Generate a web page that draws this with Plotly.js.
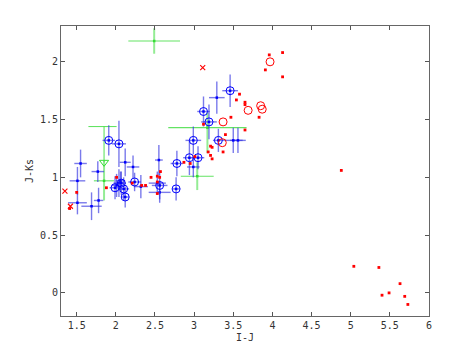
<!DOCTYPE html>
<html><head><meta charset="utf-8">
<script src="https://cdn.plot.ly/plotly-3.0.1.min.js"></script>
<style>html,body{margin:0;padding:0;background:#fff}#c{width:474px;height:356px}</style>
</head><body><div id="c"></div>
<script>
// Blue points (plain) : I-J, J-Ks, errors
const blueX  = [1.55,1.51,1.51,1.69,1.78,1.77,2.12,2.22,2.32,2.04,2.01,2.06,2.55,2.53,2.56,2.99,3.29,3.50,3.56];
const blueY  = [1.12,0.97,0.78,0.75,0.80,1.05,1.13,1.09,0.92,0.95,0.93,0.97,1.15,0.95,0.87,1.09,1.69,1.32,1.32];
const blueXe = [0.08,0.10,0.12,0.13,0.06,0.08,0.07,0.08,0.09,0.07,0.06,0.06,0.05,0.11,0.14,0.08,0.10,0.12,0.10];
const blueYe = [0.12,0.12,0.10,0.12,0.11,0.09,0.12,0.10,0.10,0.12,0.10,0.08,0.13,0.10,0.09,0.09,0.14,0.11,0.11];
// Blue points (circled)
const circX  = [1.91,2.04,1.99,2.07,2.10,2.12,2.24,2.56,2.77,2.78,2.94,3.05,2.99,3.12,3.19,3.31,3.46];
const circY  = [1.32,1.29,0.91,0.95,0.90,0.83,0.96,0.93,0.90,1.12,1.17,1.17,1.32,1.57,1.48,1.32,1.75];
const circXe = [0.08,0.09,0.07,0.06,0.07,0.05,0.08,0.10,0.05,0.08,0.08,0.08,0.10,0.08,0.10,0.07,0.10];
const circYe = [0.13,0.20,0.10,0.10,0.10,0.09,0.08,0.12,0.10,0.11,0.15,0.10,0.12,0.13,0.15,0.10,0.14];
// Red dots
const redX = [1.41,1.50,1.88,2.01,2.21,2.33,2.38,2.45,2.53,2.57,2.56,2.53,2.53,2.87,2.95,3.01,3.18,3.21,3.23,3.21,3.23,3.37,3.12,3.40,3.65,3.47,3.83,3.54,3.58,3.65,3.65,3.91,3.96,4.13,4.13,4.88,5.04,5.36,5.63,5.40,5.49,5.69,5.73];
const redY = [0.73,0.87,0.91,1.00,0.95,0.93,0.93,1.00,1.01,1.05,1.00,0.96,0.86,1.13,1.12,1.18,1.22,1.19,1.16,1.27,1.26,1.22,1.46,1.37,1.41,1.52,1.52,1.67,1.72,1.65,1.63,1.93,2.06,2.08,1.87,1.06,0.23,0.22,0.08,-0.02,0.00,-0.03,-0.10];
// Red crosses
const crossX = [3.11,1.35,1.42];
const crossY = [1.95,0.88,0.75];
// Red open circles
const ringX = [3.37,3.69,3.36,3.97,3.85,3.87];
const ringY = [1.48,1.58,1.30,2.00,1.62,1.59];
// Green points
const greenX   = [2.49,1.85,3.04,3.17];
const greenY   = [2.18,0.97,1.01,1.43];
const greenXe  = [0.33,0.13,0.21,0.50];
const greenYp  = [0.11,0.17,0.12,0.13];
const greenYm  = [0.11,0.17,0.12,0.22];
// Green upper limit
const limX = [1.85], limY = [1.44], limXp = [0.16], limXm = [0.20], limYm = [0.31];
const limTipY = [1.13];

const BLUE = '#0000ff', EB = 'rgba(50,50,225,0.65)', GREEN = '#33dd33', RED = '#ff0000';
const traces = [
  {x: greenX, y: greenY, mode:'markers', type:'scatter',
   marker:{symbol:'square', size:2.5, color:GREEN},
   error_x:{type:'data', array:greenXe, visible:true, color:'rgba(60,220,60,0.8)', thickness:1.1, width:0},
   error_y:{type:'data', symmetric:false, array:greenYp, arrayminus:greenYm, visible:true, color:'rgba(60,220,60,0.55)', thickness:2, width:0}},
  {x: limX, y: limY, mode:'markers', type:'scatter', marker:{size:1, color:GREEN, opacity:0},
   error_x:{type:'data', symmetric:false, array:limXp, arrayminus:limXm, visible:true, color:'rgba(60,220,60,0.8)', thickness:1.1, width:0},
   error_y:{type:'data', symmetric:false, array:[0], arrayminus:limYm, visible:true, color:'rgba(60,220,60,0.8)', thickness:1.1, width:0}},
  {x: limX, y: limTipY, mode:'markers', type:'scatter',
   marker:{symbol:'triangle-down-open', size:8, color:GREEN, line:{width:1, color:GREEN}}},
  {x: blueX, y: blueY, mode:'markers', type:'scatter',
   marker:{symbol:'square', size:2.5, color:BLUE},
   error_x:{type:'data', array:blueXe, visible:true, color:EB, thickness:1.4, width:0},
   error_y:{type:'data', array:blueYe, visible:true, color:EB, thickness:1.4, width:0}},
  {x: circX, y: circY, mode:'markers', type:'scatter',
   marker:{symbol:'square', size:2.5, color:BLUE},
   error_x:{type:'data', array:circXe, visible:true, color:EB, thickness:1.4, width:0},
   error_y:{type:'data', array:circYe, visible:true, color:EB, thickness:1.4, width:0}},
  {x: circX, y: circY, mode:'markers', type:'scatter',
   marker:{symbol:'circle-open', size:8, color:BLUE, line:{width:1, color:'rgba(30,30,255,0.85)'}}},
  {x: redX, y: redY, mode:'markers', type:'scatter',
   marker:{symbol:'square', size:2.8, color:RED}},
  {x: ringX, y: ringY, mode:'markers', type:'scatter',
   marker:{symbol:'circle-open', size:8, color:RED, line:{width:1, color:'rgba(255,50,50,0.85)'}}},
  {x: crossX, y: crossY, mode:'markers', type:'scatter',
   marker:{symbol:'x-thin-open', size:5, color:RED, line:{width:1.1, color:RED}}}
];
const axFont = {family:'DejaVu Sans Mono, monospace', size:10, color:'#333'};
const layout = {
  width:474, height:356, showlegend:false,
  paper_bgcolor:'#fff', plot_bgcolor:'#fff',
  margin:{l:61, r:45, t:26, b:40},
  xaxis:{range:[1.3,6], tickvals:[1.5,2,2.5,3,3.5,4,4.5,5,5.5,6], ticktext:['1.5','2','2.5','3','3.5','4','4.5','5','5.5','6'],
    ticks:'inside', ticklen:4, tickcolor:'#555', showline:true, mirror:'ticks', linecolor:'#666', linewidth:1,
    showgrid:false, zeroline:false, tickfont:axFont,
    title:{text:'I-J', font:axFont, standoff:3}},
  yaxis:{range:[-0.2,2.31], tickvals:[0,0.5,1,1.5,2], ticktext:['0','0.5','1','1.5','2'],
    ticks:'inside', ticklen:4, tickcolor:'#555', showline:true, mirror:'ticks', linecolor:'#666', linewidth:1,
    showgrid:false, zeroline:false, tickfont:axFont,
    title:{text:'J-Ks', font:axFont, standoff:4}}
};
Plotly.newPlot('c', traces, layout, {staticPlot:true, displayModeBar:false});
</script></body></html>
